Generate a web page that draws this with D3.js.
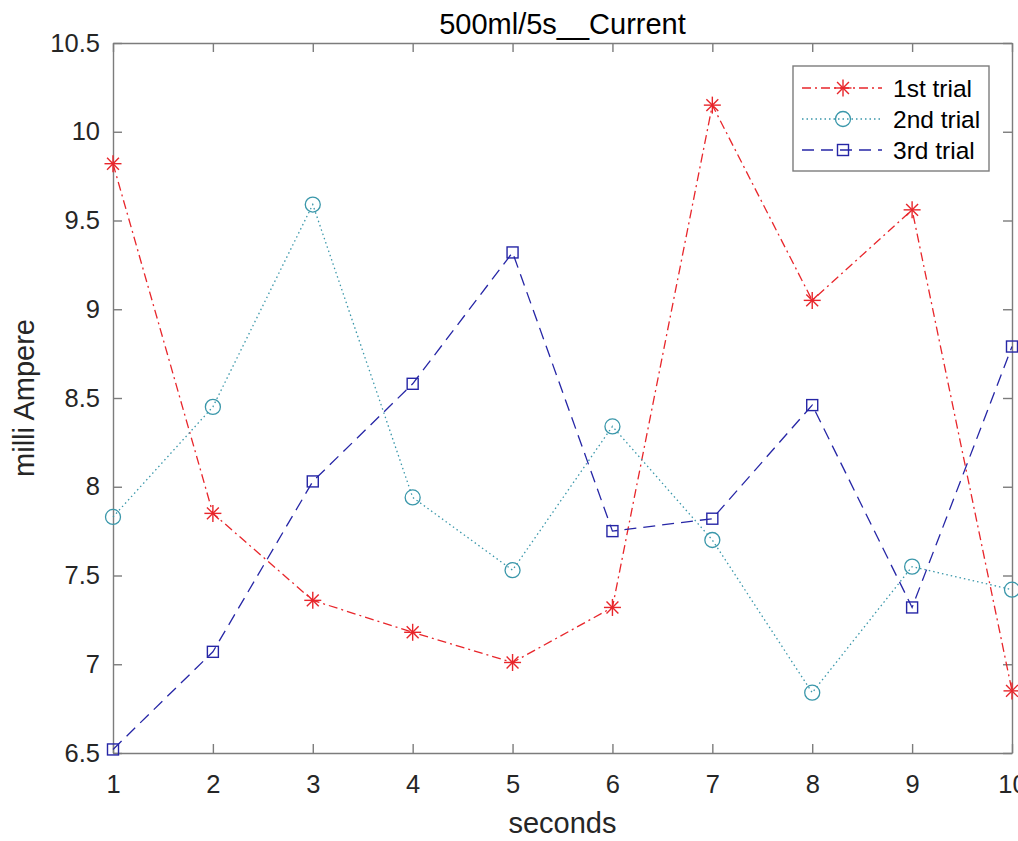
<!DOCTYPE html>
<html>
<head>
<meta charset="utf-8">
<script src="https://cdn.jsdelivr.net/npm/d3@7"></script>
<style>
  body { margin: 0; background: #fff; }
  svg { display: block; font-family: "Liberation Sans", Arial, sans-serif; }
</style>
</head>
<body>
<svg id="chart"></svg>
<script>
// Measurements, one value per second
const seconds = [1, 2, 3, 4, 5, 6, 7, 8, 9, 10];
const trial1 = [9.82, 7.85, 7.36, 7.18, 7.01, 7.32, 10.15, 9.05, 9.56, 6.85];
const trial2 = [7.83, 8.45, 9.59, 7.94, 7.53, 8.34, 7.70, 6.84, 7.55, 7.42];
const trial3 = [6.52, 7.07, 8.03, 8.58, 9.32, 7.75, 7.82, 8.46, 7.32, 8.79];
const trialNames = ["1st trial", "2nd trial", "3rd trial"];
const yTicks = [6.5, 7, 7.5, 8, 8.5, 9, 9.5, 10, 10.5];

const W = 1018, H = 841;
const margin = {top: 43, right: 6, bottom: 88, left: 113};
const width = W - margin.left - margin.right;
const height = H - margin.top - margin.bottom;

const svg = d3.select("#chart")
  .attr("width", W)
  .attr("height", H);

const g = svg.append("g")
  .attr("transform", `translate(${margin.left}, ${margin.top})`);

const x = d3.scaleLinear().domain([1, 10]).range([0, width]);
const y = d3.scaleLinear().domain([6.5, 10.5]).range([height, 0]);

const axisColor = "#7c7c7c";
const textColor = "#262626";
const tickFont = 25.5;
const labelFont = 29;

// Styles per series (MATLAB-like line specs)
const series = [
  {name: trialNames[0], values: trial1, color: "#e8262b", dash: "9,4,2,4", marker: "star"},
  {name: trialNames[1], values: trial2, color: "#3a97aa", dash: "1.5,3", marker: "circle"},
  {name: trialNames[2], values: trial3, color: "#2626a6", dash: "12,7", marker: "square"}
];

// Axes: ticks point inward, box on all sides
const xAxis = d3.axisBottom(x).tickValues(seconds).tickSizeInner(-9).tickSizeOuter(0).tickPadding(22);
const yAxis = d3.axisLeft(y).tickValues(yTicks).tickFormat(d3.format("")).tickSizeInner(-9).tickSizeOuter(0).tickPadding(13);

g.append("g")
  .attr("transform", `translate(0, ${height})`)
  .call(xAxis)
  .call(s => s.selectAll("text").attr("font-size", tickFont).attr("fill", textColor))
  .call(s => s.selectAll("line, path").attr("stroke", axisColor).attr("stroke-width", 1.4));

g.append("g")
  .call(yAxis)
  .call(s => s.selectAll("text").attr("font-size", tickFont).attr("fill", textColor))
  .call(s => s.selectAll("line, path").attr("stroke", axisColor).attr("stroke-width", 1.4));

// top and right box edges with their ticks
g.append("g")
  .call(d3.axisTop(x).tickValues(seconds).tickSizeInner(-9).tickSizeOuter(0).tickFormat(""))
  .call(s => s.selectAll("line, path").attr("stroke", axisColor).attr("stroke-width", 1.4));
g.append("g")
  .attr("transform", `translate(${width}, 0)`)
  .call(d3.axisRight(y).tickValues(yTicks).tickSizeInner(-9).tickSizeOuter(0).tickFormat(""))
  .call(s => s.selectAll("line, path").attr("stroke", axisColor).attr("stroke-width", 1.4));

// Lines
const line = d3.line()
  .x((d, i) => x(seconds[i]))
  .y(d => y(d));

series.forEach(s => {
  g.append("path")
    .datum(s.values)
    .attr("fill", "none")
    .attr("stroke", s.color)
    .attr("stroke-width", 1.3)
    .attr("stroke-dasharray", s.dash)
    .attr("d", line);
});

// Marker drawing
function drawMarker(sel, type, color) {
  if (type === "star") {
    const r = 8.5;
    const p = [[-r, 0, r, 0], [0, -r, 0, r], [-r * 0.7, -r * 0.7, r * 0.7, r * 0.7], [-r * 0.7, r * 0.7, r * 0.7, -r * 0.7]];
    p.forEach(l => sel.append("line")
      .attr("x1", l[0]).attr("y1", l[1]).attr("x2", l[2]).attr("y2", l[3])
      .attr("stroke", color).attr("stroke-width", 1.4));
  } else if (type === "circle") {
    sel.append("circle").attr("r", 7.5)
      .attr("fill", "none").attr("stroke", color).attr("stroke-width", 1.3);
  } else {
    sel.append("rect").attr("x", -5.5).attr("y", -5.5).attr("width", 11).attr("height", 11)
      .attr("fill", "none").attr("stroke", color).attr("stroke-width", 1.4);
  }
}

series.forEach(s => {
  g.append("g").selectAll("g")
    .data(s.values)
    .join("g")
    .attr("transform", (d, i) => `translate(${x(seconds[i])}, ${y(d)})`)
    .each(function () { drawMarker(d3.select(this), s.marker, s.color); });
});

// Title and axis labels
svg.append("text")
  .attr("x", margin.left + width / 2)
  .attr("y", 34)
  .attr("text-anchor", "middle")
  .attr("font-size", labelFont)
  .attr("fill", "#000")
  .text("500ml/5s__Current");

svg.append("text")
  .attr("x", margin.left + width / 2)
  .attr("y", 833)
  .attr("text-anchor", "middle")
  .attr("font-size", labelFont)
  .attr("fill", textColor)
  .text("seconds");

svg.append("text")
  .attr("transform", `translate(34, ${margin.top + height / 2}) rotate(-90)`)
  .attr("text-anchor", "middle")
  .attr("font-size", labelFont)
  .attr("fill", textColor)
  .text("milli Ampere");

// Legend
const legend = svg.append("g").attr("transform", "translate(793, 66)");
legend.append("rect")
  .attr("width", 196).attr("height", 105)
  .attr("fill", "#fff").attr("stroke", axisColor).attr("stroke-width", 1.4);

series.forEach((s, i) => {
  const cy = 22 + i * 31;
  legend.append("line")
    .attr("x1", 9).attr("x2", 89).attr("y1", cy).attr("y2", cy)
    .attr("stroke", s.color).attr("stroke-width", 1.3)
    .attr("stroke-dasharray", s.dash);
  drawMarker(legend.append("g").attr("transform", `translate(50, ${cy})`), s.marker, s.color);
  legend.append("text")
    .attr("x", 100).attr("y", cy + 9)
    .attr("font-size", 24.5)
    .attr("fill", "#000")
    .text(s.name);
});
</script>
</body>
</html>
